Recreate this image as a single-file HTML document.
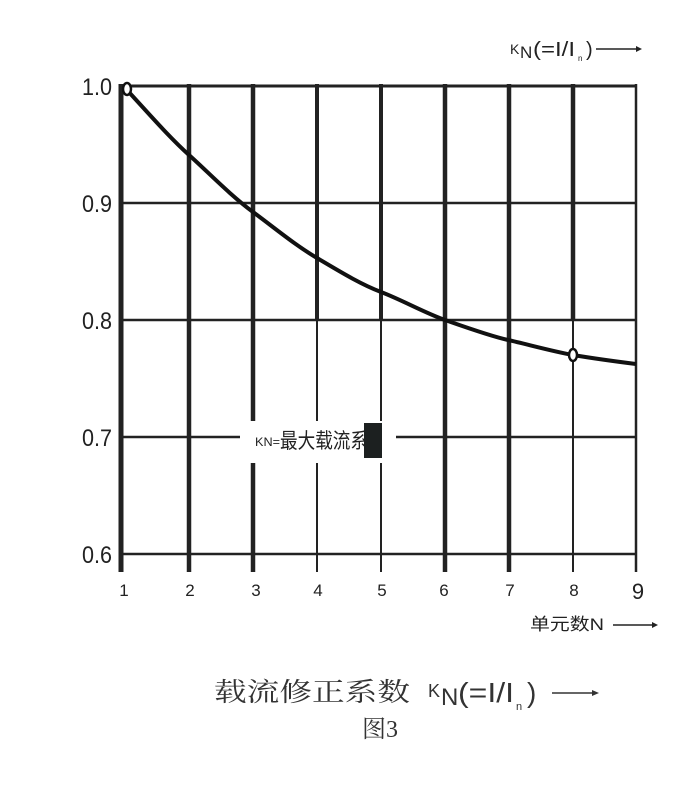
<!DOCTYPE html>
<html><head><meta charset="utf-8"><style>
body{margin:0;background:#fff;width:700px;height:784px;overflow:hidden}
</style></head><body>
<svg width="700" height="784" xmlns="http://www.w3.org/2000/svg" font-family="'Liberation Sans','Noto Sans CJK SC',sans-serif">
<g stroke="#222" fill="none">
<line x1="121" y1="86" x2="636" y2="86" stroke-width="3"/>
<line x1="121" y1="203" x2="636" y2="203" stroke-width="2.5"/>
<line x1="121" y1="320" x2="636" y2="320" stroke-width="2.5"/>
<line x1="121" y1="437" x2="636" y2="437" stroke-width="2.5"/>
<line x1="121" y1="554" x2="636" y2="554" stroke-width="2.5"/>
<line x1="121" y1="84" x2="121" y2="572" stroke-width="5"/>
<line x1="189" y1="84" x2="189" y2="572" stroke-width="4.5"/>
<line x1="253" y1="84" x2="253" y2="572" stroke-width="4.5"/>
<line x1="317" y1="84" x2="317" y2="320" stroke-width="4"/>
<line x1="317" y1="320" x2="317" y2="572" stroke-width="2"/>
<line x1="381" y1="84" x2="381" y2="320" stroke-width="4"/>
<line x1="381" y1="320" x2="381" y2="572" stroke-width="2"/>
<line x1="445" y1="84" x2="445" y2="572" stroke-width="4.5"/>
<line x1="509" y1="84" x2="509" y2="572" stroke-width="4.5"/>
<line x1="573" y1="84" x2="573" y2="320" stroke-width="4.5"/>
<line x1="573" y1="320" x2="573" y2="572" stroke-width="2"/>
<line x1="636" y1="84" x2="636" y2="572" stroke-width="2.5"/>
</g>
<rect x="240" y="421" width="156" height="42" fill="#fff"/>
<text x="255" y="446" font-size="12" fill="#222" textLength="25" lengthAdjust="spacingAndGlyphs">KN=</text>
<text x="280" y="448" font-size="21" fill="#222" textLength="88" lengthAdjust="spacingAndGlyphs">最大载流系</text>
<rect x="364" y="423" width="18" height="35" fill="#1c2020"/>
<path d="M127,90 C150,115 170,138 189,155 S230,195 253,212 S295,245 317,258 S360,284 381,292 S425,313 445,320 S490,336 508,340 S555,352 573,355 S620,362 636,364" stroke="#111" stroke-width="4" fill="none"/>
<ellipse cx="127" cy="89" rx="4" ry="6" fill="#fff" stroke="#111" stroke-width="2.5"/>
<ellipse cx="573" cy="355" rx="4" ry="6" fill="#fff" stroke="#111" stroke-width="2.5"/>
<g font-size="24" fill="#222" text-anchor="end">
<text x="112" y="95" textLength="30" lengthAdjust="spacingAndGlyphs">1.0</text>
<text x="112" y="212" textLength="30" lengthAdjust="spacingAndGlyphs">0.9</text>
<text x="112" y="329" textLength="30" lengthAdjust="spacingAndGlyphs">0.8</text>
<text x="112" y="446" textLength="30" lengthAdjust="spacingAndGlyphs">0.7</text>
<text x="112" y="563" textLength="30" lengthAdjust="spacingAndGlyphs">0.6</text>
</g>
<g font-size="17" fill="#222" text-anchor="middle">
<text x="124" y="596">1</text><text x="190" y="596">2</text><text x="256" y="596">3</text>
<text x="318" y="596">4</text><text x="382" y="596">5</text><text x="444" y="596">6</text>
<text x="510" y="596">7</text><text x="574" y="596">8</text><text x="638" y="599" font-size="22">9</text>
</g>
<text x="530" y="630" font-size="17" fill="#222" textLength="74" lengthAdjust="spacingAndGlyphs">单元数N</text>
<line x1="613" y1="625" x2="652" y2="625" stroke="#222" stroke-width="1.5"/><path d="M652,622 L658,625 L652,628Z" fill="#222"/>
<text x="510" y="54" font-size="14" fill="#222">K</text><text x="520" y="58" font-size="17" fill="#222">N</text>
<text x="533" y="56" font-size="20" fill="#222" textLength="42" lengthAdjust="spacingAndGlyphs">(=I/I</text><text x="578" y="61" font-size="8" fill="#222">n</text><text x="586" y="56" font-size="20" fill="#222">)</text>
<line x1="596" y1="49" x2="636" y2="49" stroke="#222" stroke-width="1.5"/><path d="M636,46 L642,49 L636,52Z" fill="#222"/>
<text x="214" y="701" font-size="26" fill="#333" font-family="'Liberation Serif','Noto Serif CJK SC',serif" textLength="196" lengthAdjust="spacingAndGlyphs">载流修正系数</text>
<text x="428" y="697" font-size="18" fill="#333">K</text><text x="441" y="705" font-size="24" fill="#333">N</text>
<text x="458" y="702" font-size="28" fill="#333" textLength="56" lengthAdjust="spacingAndGlyphs">(=I/I</text><text x="516" y="710" font-size="11" fill="#333">n</text><text x="527" y="702" font-size="28" fill="#333">)</text>
<line x1="552" y1="693" x2="592" y2="693" stroke="#333" stroke-width="1.5"/><path d="M592,690 L599,693 L592,696Z" fill="#333"/>
<text x="380" y="737" font-size="24" fill="#333" text-anchor="middle" font-family="'Liberation Serif','Noto Serif CJK SC',serif">图3</text>
</svg>
</body></html>
